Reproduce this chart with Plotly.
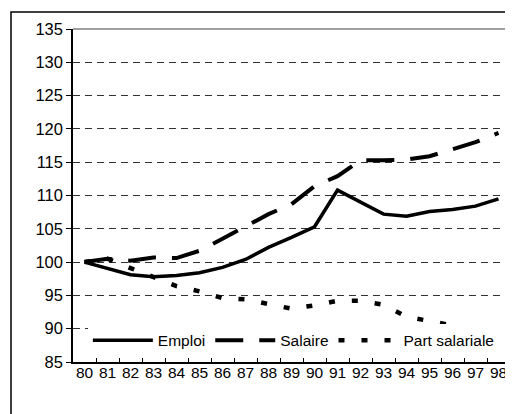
import plotly.graph_objects as go

years = ["80", "81", "82", "83", "84", "85", "86", "87", "88", "89",
         "90", "91", "92", "93", "94", "95", "96", "97", "98"]
emploi = [100.0, 99.0, 98.1, 97.8, 98.0, 98.4, 99.2, 100.4, 102.2, 103.7,
          105.3, 110.8, 109.0, 107.2, 106.9, 107.6, 107.9, 108.4, 109.5]
salaire = [100.0, 100.5, 100.2, 100.7, 100.6, 101.7, 103.5, 105.3, 107.2, 108.7,
           111.4, 112.9, 115.3, 115.3, 115.4, 115.9, 116.9, 118.0, 119.4]
part_salariale = [100.0, 100.5, 99.1, 97.7, 96.4, 95.6, 94.6, 94.4, 93.7, 93.0,
                  93.5, 94.2, 94.2, 93.6, 91.8, 91.1, 90.5, 90.2, 90.0]
y_ticks = [85, 90, 95, 100, 105, 110, 115, 120, 125, 130, 135]

FONT = "Liberation Sans, Arial, sans-serif"

# page body has an 8px margin: figure occupies window pixels 8..513 / 8..414
fig = go.Figure()
fig.add_trace(go.Scatter(x=years, y=emploi, name="Emploi", mode="lines",
                         line=dict(color="black", width=3.5)))
fig.add_trace(go.Scatter(x=years, y=salaire, name="Salaire", mode="lines",
                         line=dict(color="black", width=4, dash="28px,16px")))
fig.add_trace(go.Scatter(x=years, y=part_salariale, name="Part salariale", mode="lines",
                         line=dict(color="black", width=4.5, dash="6px,17px")))

fig.update_layout(
    width=505, height=406,
    margin=dict(l=65, r=3, t=21, b=52, autoexpand=False),
    paper_bgcolor="white", plot_bgcolor="white",
    font=dict(family=FONT, size=16, color="black"),
    showlegend=True,
    legend=dict(orientation="h", x=0.034, y=0.064, xanchor="left", yanchor="middle",
                bgcolor="white", borderwidth=0, itemwidth=60,
                font=dict(family=FONT, size=15.5, color="black"),
                tracegroupgap=0, itemsizing="trace"),
    xaxis=dict(type="category", range=[-0.5, len(years) - 0.5], showgrid=False,
               showline=True, linecolor="black",
               linewidth=1.5, ticks="inside", tickson="boundaries", ticklen=5,
               tickcolor="black", tickfont=dict(size=15.5), tickangle=0,
               ticklabelstandoff=-4, automargin=False, zeroline=False),
    yaxis=dict(range=[85, 135], tickvals=y_ticks, showgrid=True, gridcolor="#333333",
               griddash="7px,5px", gridwidth=1, showline=True, linecolor="black",
               linewidth=1.5, ticks="outside", ticklen=5, tickcolor="black",
               tickfont=dict(size=16.5), automargin=False, zeroline=False),
    shapes=[
        dict(type="line", xref="paper", yref="paper", x0=0, x1=1, y0=1, y1=1,
             line=dict(color="#808080", width=1.5)),
        dict(type="line", xref="paper", yref="paper", x0=1, x1=1, y0=0, y1=1,
             line=dict(color="#404040", width=1.5)),
        dict(type="rect", xref="paper", yref="paper", x0=-62/437, x1=1.2, y0=1 + 17/333, y1=-0.5,
             line=dict(color="black", width=1.5), fillcolor="rgba(0,0,0,0)"),
    ],
)

fig.write_html("out.html")
